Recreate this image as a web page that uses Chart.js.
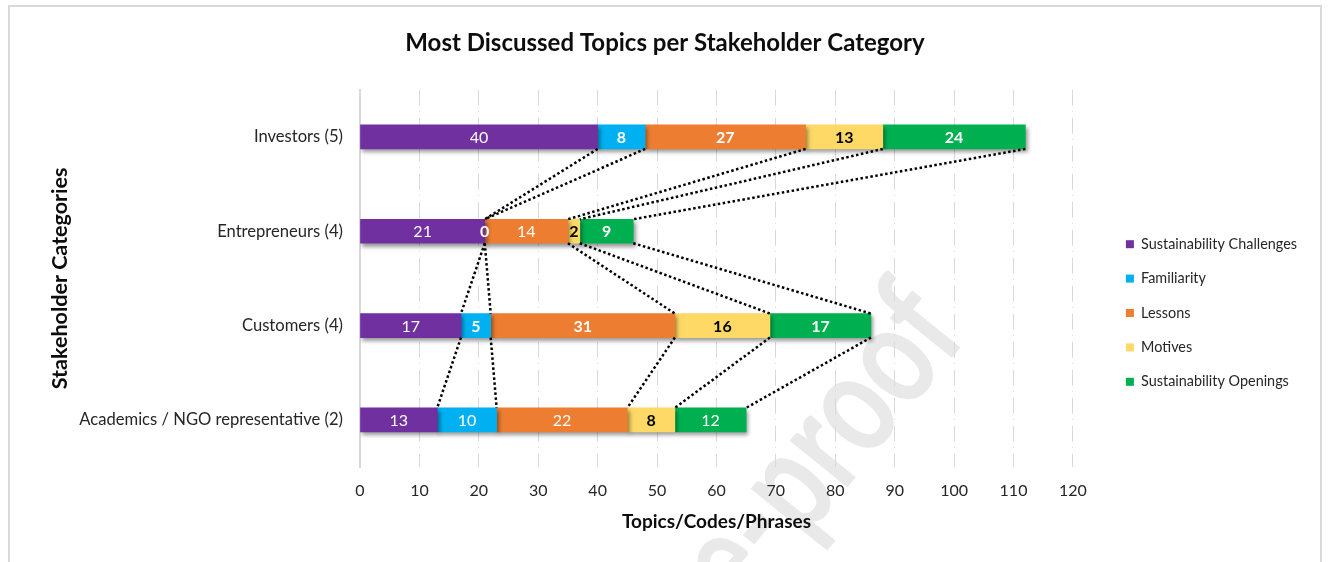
<!DOCTYPE html>
<html>
<head>
<meta charset="utf-8">
<script src="https://cdn.jsdelivr.net/npm/chart.js@4"></script>
<style>
  html, body { margin: 0; padding: 0; background: #fff; overflow: hidden; }
  #frame { position: absolute; left: 8px; top: 5px; width: 1310px; height: 612px; border: 2px solid #d9d9d9; }
  canvas { display: block; }
</style>
</head>
<body>
<div id="frame"><canvas id="chart" width="1310" height="612"></canvas></div>
<script>
const categories = ['Investors (5)', 'Entrepreneurs (4)', 'Customers (4)', 'Academics / NGO representative (2)'];
const challenges = [40, 21, 17, 13];
const familiarity = [8, 0, 5, 10];
const lessons = [27, 14, 31, 22];
const motives = [13, 2, 16, 8];
const openings = [24, 9, 17, 12];
const xTicks = [0, 10, 20, 30, 40, 50, 60, 70, 80, 90, 100, 110, 120];

const colors = ['#7030A0', '#00B0F0', '#ED7D31', '#FFD966', '#00B050'];
const labelColors = ['#fff', '#fff', '#fff', '#000', '#fff'];
// which labels Excel rendered bold (per series, per category)
const labelBold = [
    [false, false, false, false],
    [true, true, true, false],
    [true, false, true, false],
    [true, true, true, true],
    [true, true, true, false]
];

Chart.defaults.font.family = 'Lato';
Chart.defaults.color = '#262626';

// watermark, shadows under bars, dotted series lines and value labels
const barExtras = {
    id: 'barExtras',
    beforeDraw(chart) {
        const ctx = chart.ctx;
        ctx.save();
        ctx.translate(960, 329);
        ctx.rotate(-51 * Math.PI / 180);
        ctx.scale(0.75, 1);
        ctx.font = 'bold 145px Lato';
        ctx.fillStyle = 'rgba(0,0,0,0.085)';
        ctx.textAlign = 'right';
        ctx.textBaseline = 'alphabetic';
        ctx.fillText('Journal Pre-proof', 0, 0);
        ctx.restore();
    },
    beforeDatasetsDraw(chart) {
        const ctx = chart.ctx;
        ctx.save();
        ctx.shadowColor = 'rgba(0,0,0,0.4)';
        ctx.shadowBlur = 4;
        ctx.shadowOffsetX = 2;
        ctx.shadowOffsetY = 3;
    },
    afterDatasetsDraw(chart) {
        const ctx = chart.ctx;
        ctx.restore();

        ctx.save();
        ctx.strokeStyle = '#000';
        ctx.lineWidth = 2.5;
        ctx.setLineDash([2.5, 2.5]);
        chart.data.datasets.forEach((ds, d) => {
            const bars = chart.getDatasetMeta(d).data;
            for (let i = 0; i < bars.length - 1; i++) {
                const a = bars[i], b = bars[i + 1];
                ctx.beginPath();
                ctx.moveTo(a.x, a.y + a.height / 2);
                ctx.lineTo(b.x, b.y - b.height / 2);
                ctx.stroke();
            }
        });
        ctx.restore();

        ctx.save();
        ctx.textAlign = 'center';
        ctx.textBaseline = 'middle';
        chart.data.datasets.forEach((ds, d) => {
            chart.getDatasetMeta(d).data.forEach((bar, i) => {
                ctx.fillStyle = labelColors[d];
                ctx.font = (labelBold[d][i] ? 'bold ' : '') + '16px Lato';
                ctx.fillText(ds.data[i], (bar.x + bar.base) / 2, bar.y + 1);
            });
        });
        ctx.restore();
    }
};

const seriesNames = ['Sustainability Challenges', 'Familiarity', 'Lessons', 'Motives', 'Sustainability Openings'];
const seriesData = [challenges, familiarity, lessons, motives, openings];

const data = {
    labels: categories,
    datasets: seriesNames.map((name, k) => ({
        label: name,
        data: seriesData[k],
        backgroundColor: colors[k],
        borderWidth: 0,
        barThickness: 24
    }))
};

const config = {
    type: 'bar',
    data: data,
    plugins: [barExtras],
    options: {
        indexAxis: 'y',
        responsive: false,
        animation: false,
        layout: { padding: { left: 13, right: 13, top: 0, bottom: 0 } },
        plugins: {
            tooltip: { enabled: false },
            title: {
                display: true,
                text: 'Most Discussed Topics per Stakeholder Category',
                color: '#0d0d0d',
                font: { size: 24, weight: 'bold' },
                padding: { top: 22, bottom: 32 }
            },
            legend: {
                position: 'right',
                align: 'center',
                labels: {
                    boxWidth: 8,
                    boxHeight: 8,
                    padding: 20,
                    color: '#262626',
                    font: { size: 14.4 }
                }
            }
        },
        scales: {
            x: {
                stacked: true,
                min: 0,
                max: 120,
                afterBuildTicks(scale) {
                    scale.ticks = xTicks.map(v => ({ value: v }));
                },
                afterFit(scale) { scale.height = 152; },
                grid: { color: '#d9d9d9', lineWidth: 1, drawTicks: false },
                border: { display: false, dash: [16, 5, 1, 6] },
                ticks: { padding: 14, color: '#262626', font: { size: 16 } },
                title: {
                    display: true,
                    text: 'Topics/Codes/Phrases',
                    color: '#0d0d0d',
                    font: { size: 19, weight: 'bold' },
                    padding: { top: 0, bottom: 86 }
                }
            },
            y: {
                stacked: true,
                afterFit(scale) { scale.width = 337; },
                grid: { display: false, drawTicks: false },
                border: { display: true, color: '#d9d9d9', width: 2 },
                ticks: { padding: 17, color: '#262626', font: { size: 16.6 } },
                title: {
                    display: true,
                    text: 'Stakeholder Categories',
                    color: '#0d0d0d',
                    font: { size: 21.5, weight: 'bold' },
                    padding: { top: 24, bottom: 0 }
                }
            },
            gap: {
                type: 'category',
                axis: 'y',
                position: 'right',
                afterFit(scale) { scale.width = 33; },
                grid: { display: false, drawTicks: false },
                border: { display: false },
                ticks: { display: false }
            }
        }
    }
};

const ctx = document.getElementById('chart').getContext('2d');
new Chart(ctx, config);
</script>
</body>
</html>
